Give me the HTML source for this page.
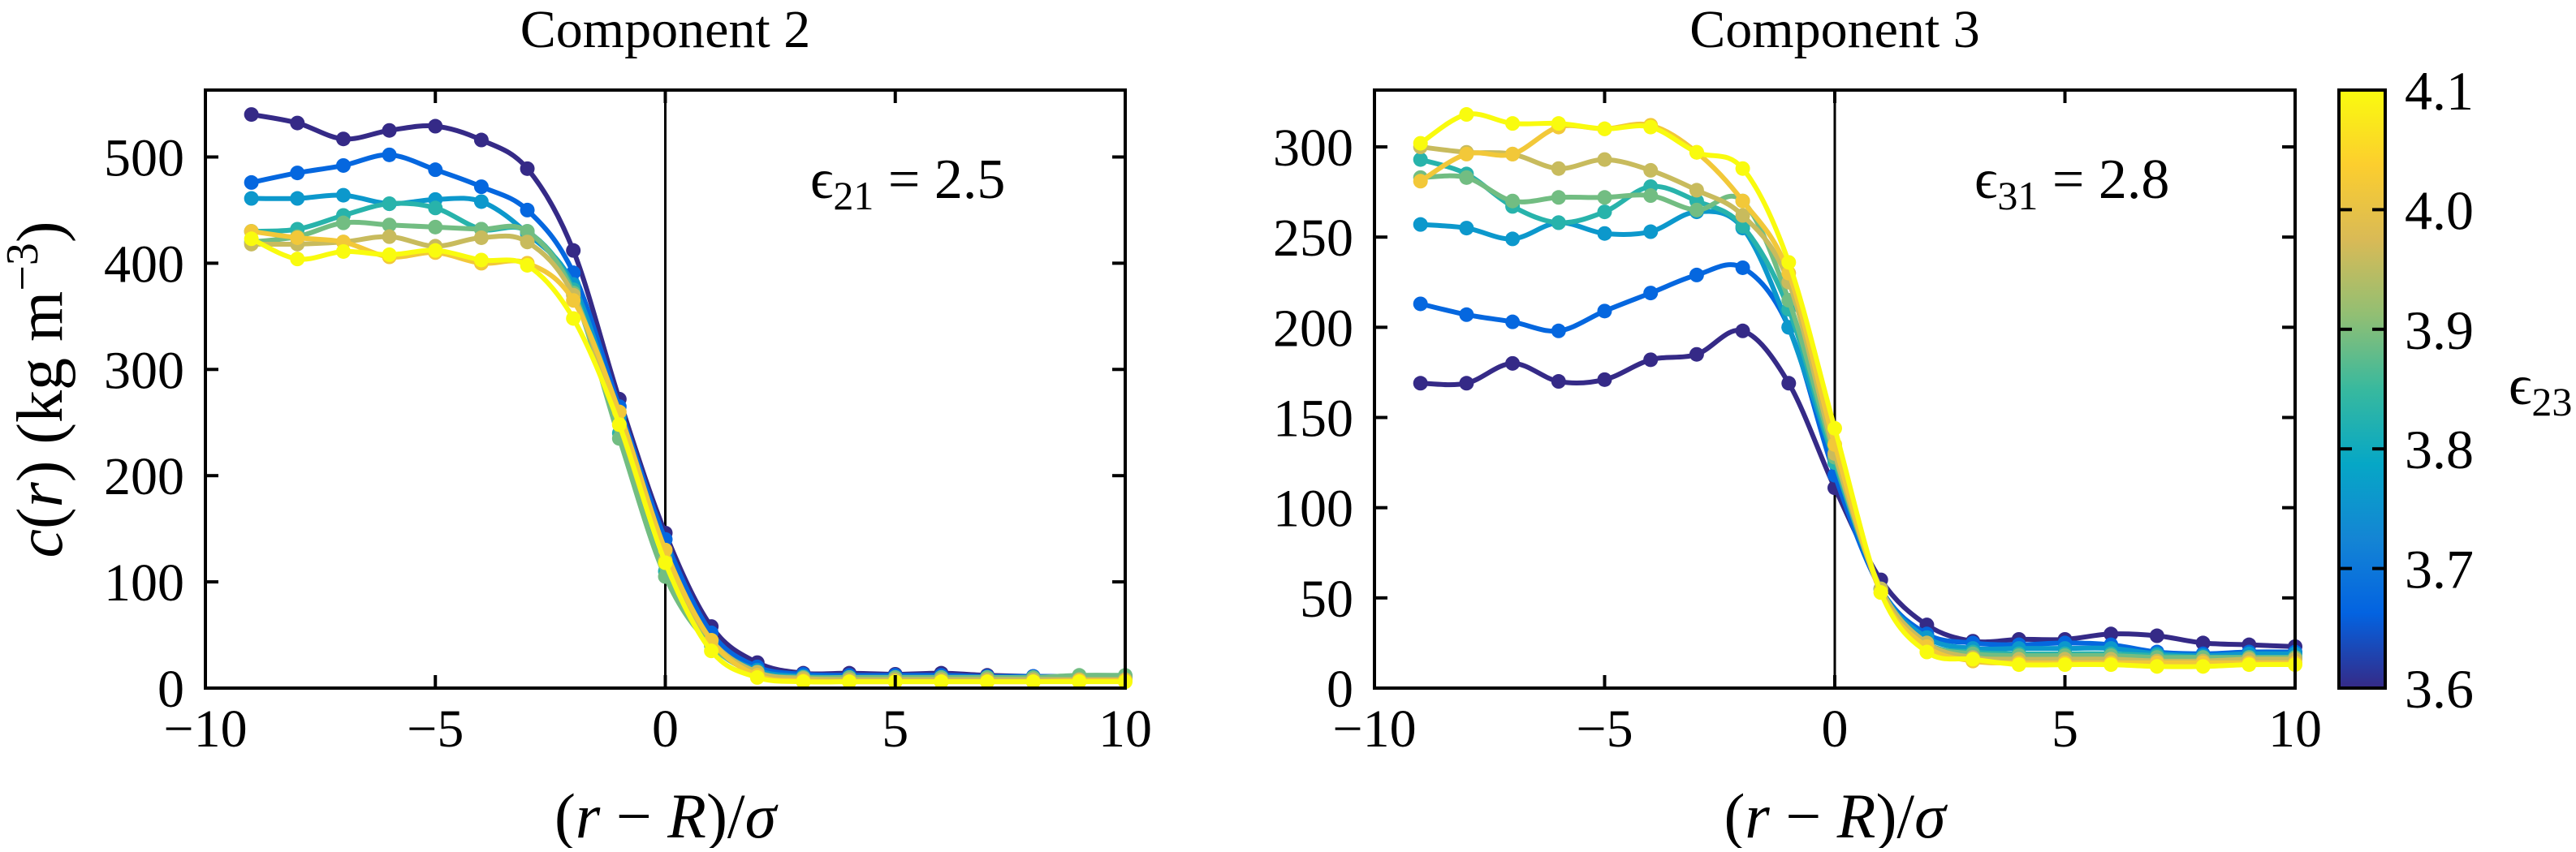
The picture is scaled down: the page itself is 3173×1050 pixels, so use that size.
<!DOCTYPE html>
<html><head><meta charset="utf-8"><style>
html,body{margin:0;padding:0;background:#fff;}
svg text{font-family:"Liberation Serif",serif;fill:#000;}
</style></head><body>
<svg id="fig" xmlns="http://www.w3.org/2000/svg" width="3173" height="1045" viewBox="0 0 3173 1045">
<defs>
<linearGradient id="parula" x1="0" y1="1" x2="0" y2="0">
<stop offset="0" stop-color="#352a87"/><stop offset="0.125" stop-color="#0363e1"/><stop offset="0.25" stop-color="#1485d4"/><stop offset="0.375" stop-color="#06a7c6"/><stop offset="0.5" stop-color="#38b99e"/><stop offset="0.625" stop-color="#92bf73"/><stop offset="0.75" stop-color="#d9ba56"/><stop offset="0.875" stop-color="#fcce2e"/><stop offset="1" stop-color="#f9fb0e"/>
</linearGradient>
</defs>
</svg>
<script>
const xValues = [-9,-8,-7,-6,-5,-4,-3,-2,-1,0,1,2,3,4,5,6,7,8,9,10];
const epsValues = [3.6,3.67,3.76,3.83,3.89,3.96,4.02,4.1];
const comp2Series = [
[540,532,517,525,529,516,489,412,272,146,58,24,14,14,13,14,12,11,11,11],
[476,485,492,502,488,472,450,391,265,140,52,20,13,12,12,12,11,11,11,11],
[461,461,464,456,460,458,428,380,255,125,45,17,11,10,10,10,10,10,10,10],
[430,432,445,456,452,432,430,375,240,110,42,15,10,10,10,10,10,10,10,10],
[420,425,438,436,434,432,430,372,235,105,40,14,10,10,10,10,10,10,12,12],
[418,418,420,425,416,424,420,370,248,120,45,15,9,8,8,8,8,8,8,8],
[430,424,420,406,410,400,400,365,260,130,45,12,7,6,6,6,6,6,7,7],
[423,404,411,408,412,403,398,348,248,118,35,10,6,6,6,6,6,6,6,6]];
const comp3Series = [
[169,169,180,170,171,182,185,198,169,111,60,35,26,27,27,30,29,25,24,23],
[213,207,203,198,209,219,229,233,200,118,55,30,25,24,25,24,20,19,20,20],
[257,255,249,258,252,253,264,255,200,125,55,28,22,22,22,22,19,18,19,19],
[293,285,267,258,264,278,270,256,210,125,55,25,20,19,19,19,18,17,17,17],
[283,283,270,272,272,273,265,270,215,128,55,25,19,18,18,18,17,17,17,17],
[300,297,296,288,293,287,276,262,225,130,55,25,17,16,16,16,15,15,16,16],
[281,296,296,311,310,312,297,270,230,135,53,23,15,14,14,14,14,14,14,14],
[302,318,313,313,310,311,297,288,236,144,53,20,16,13,13,13,12,12,13,13]];
const xTicks = [-10,-5,0,5,10];
const yTicks2 = [0,100,200,300,400,500];
const yTicks3 = [0,50,100,150,200,250,300];
const cbTicks = [3.6,3.7,3.8,3.9,4.0,4.1];

const NS="http://www.w3.org/2000/svg";
const svg=document.getElementById('fig');
function mk(tag,attrs,parent){const e=document.createElementNS(NS,tag);for(const k in attrs)e.setAttribute(k,attrs[k]);(parent||svg).appendChild(e);return e;}
const stops=[[0,[53,42,135]],[0.125,[3,99,225]],[0.25,[20,133,212]],[0.375,[6,167,198]],[0.5,[56,185,158]],[0.625,[146,191,115]],[0.75,[217,186,86]],[0.875,[252,206,46]],[1,[249,251,14]]];
function parula(t){t=Math.max(0,Math.min(1,t));for(let i=1;i<stops.length;i++){if(t<=stops[i][0]){const a=stops[i-1],b=stops[i];const f=(t-a[0])/(b[0]-a[0]);const c=a[1].map((v,j)=>Math.round(v+(b[1][j]-v)*f));return `rgb(${c})`;}}return 'rgb(249,251,14)';}
function smoothPath(pts){let d=`M${pts[0][0]},${pts[0][1]}`;for(let i=0;i<pts.length-1;i++){const p0=pts[Math.max(0,i-1)],p1=pts[i],p2=pts[i+1],p3=pts[Math.min(pts.length-1,i+2)];const c1=[p1[0]+(p2[0]-p0[0])/6,p1[1]+(p2[1]-p0[1])/6];const c2=[p2[0]-(p3[0]-p1[0])/6,p2[1]-(p3[1]-p1[1])/6];d+=` C${c1[0]},${c1[1]} ${c2[0]},${c2[1]} ${p2[0]},${p2[1]}`;}return d;}

function panel(opt){
  const L=opt.left,R=opt.right,T=111,B=848;
  const sx=v=>L+(v+10)/20*(R-L);
  const sy=v=>B-v/opt.ymax*(B-T);
  const g=mk('g',{});
  
  
  const zl=mk('line',{x1:sx(0),x2:sx(0),y1:T,y2:B,stroke:'#000','stroke-width':3},g);
  
  opt.series.forEach((s,i)=>{
    const col=parula((epsValues[i]-3.6)/0.5);
    const sg=mk('g',{},g);
    
    
    const pts=s.map((v,j)=>[sx(xValues[j]),sy(v)]);
    mk('path',{d:smoothPath(pts),fill:'none',stroke:col,'stroke-width':6},sg);
    pts.forEach(p=>mk('circle',{cx:p[0],cy:p[1],r:9,fill:col},sg));
  });
  const fr=mk('rect',{x:L,y:T,width:R-L,height:B-T,fill:'none',stroke:'#000','stroke-width':4},g);
  
  xTicks.forEach(t=>{
    mk('line',{x1:sx(t),x2:sx(t),y1:B,y2:B-16,stroke:'#000','stroke-width':4},g);
    mk('line',{x1:sx(t),x2:sx(t),y1:T,y2:T+16,stroke:'#000','stroke-width':4},g);
    const tx=mk('text',{x:sx(t),y:920,'font-size':66,'text-anchor':'middle'},g);
    tx.textContent=(t<0?'\u2212':'')+Math.abs(t);
    
  });
  opt.yTicks.forEach(t=>{
    mk('line',{x1:L,x2:L+16,y1:sy(t),y2:sy(t),stroke:'#000','stroke-width':4},g);
    mk('line',{x1:R,x2:R-16,y1:sy(t),y2:sy(t),stroke:'#000','stroke-width':4},g);
    const ty=mk('text',{x:L-26,y:sy(t)+23,'font-size':66,'text-anchor':'end'},g);
    ty.textContent=t;
    
  });
  const ti=mk('text',{x:(L+R)/2,y:58,'font-size':66,'text-anchor':'middle'},g);
  ti.textContent=opt.title;
  
  const an=mk('text',{x:opt.annX,y:244,'font-size':70},g);
  an.innerHTML='\u03F5<tspan font-size="50" dy="14">'+opt.sub+'</tspan><tspan dy="-14"> = '+opt.val+'</tspan>';
  
  const xl=mk('text',{x:(L+R)/2,y:1032,'font-size':78,'text-anchor':'middle'},g);
  xl.innerHTML='(<tspan font-style="italic">r</tspan> \u2212 <tspan font-style="italic">R</tspan>)/<tspan font-style="italic">\u03C3</tspan>';
  
}
panel({name:'panel-component-2',left:253,right:1386,ymax:563,series:comp2Series,yTicks:yTicks2,title:'Component 2',annX:998,sub:'21',val:'2.5'});
panel({name:'panel-component-3',left:1693,right:2827,ymax:331.5,series:comp3Series,yTicks:yTicks3,title:'Component 3',annX:2432,sub:'31',val:'2.8'});

const yl=mk('text',{x:0,y:0,'font-size':80,'text-anchor':'middle',transform:'translate(76,480) rotate(-90)'});
yl.innerHTML='<tspan font-style="italic">c</tspan>(<tspan font-style="italic">r</tspan>) (kg m<tspan font-size="56" dy="-30">\u22123</tspan><tspan dy="30">)</tspan>';



const cb=mk('g',{});


const CL=2881,CR=2938,CT=111,CB=848;
const cy=v=>CB-(v-3.6)/0.5*(CB-CT);
mk('rect',{x:CL,y:CT,width:CR-CL,height:CB-CT,fill:'url(#parula)',stroke:'#000','stroke-width':4},cb);
cbTicks.forEach(t=>{
  if(t>3.6&&t<4.1){
    mk('line',{x1:CL,x2:CL+16,y1:cy(t),y2:cy(t),stroke:'#000','stroke-width':4},cb);
    mk('line',{x1:CR,x2:CR-16,y1:cy(t),y2:cy(t),stroke:'#000','stroke-width':4},cb);
  }
  const tl=mk('text',{x:2962,y:cy(t)+24,'font-size':68},cb);
  tl.textContent=t.toFixed(1);
  
  
});
const cbl=mk('text',{x:3090,y:498,'font-size':70});
cbl.innerHTML='\u03F5<tspan font-size="50" dy="14">23</tspan>';


</script>
</body></html>
